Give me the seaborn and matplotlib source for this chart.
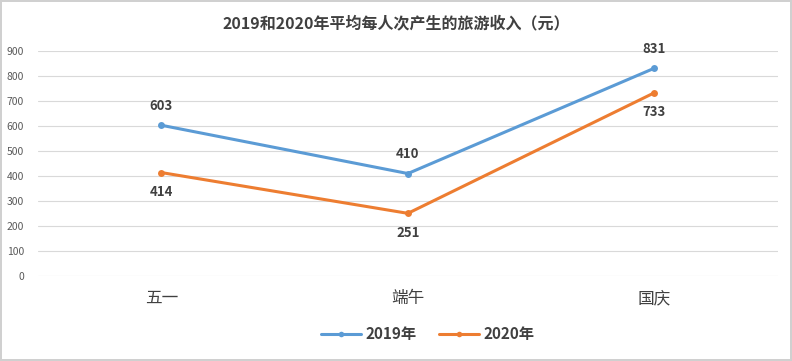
import pandas as pd
import seaborn as sns
import matplotlib.pyplot as plt

# données
categories = ['五一', '端午', '国庆']
valeurs_2019 = [603, 410, 831]
valeurs_2020 = [414, 251, 733]
series = ['2019年', '2020年']
y_ticks = [0, 100, 200, 300, 400, 500, 600, 700, 800, 900]

df = pd.DataFrame({
    'fete': categories * 2,
    'pos': list(range(len(categories))) * 2,
    'valeur': valeurs_2019 + valeurs_2020,
    'annee': [series[0]] * 3 + [series[1]] * 3,
})

sns.set_style('white')
plt.rcParams['font.family'] = ['Noto Sans CJK SC', 'DejaVu Sans']

couleurs = {'2019年': '#5B9BD5', '2020年': '#ED7D31'}

fig = plt.figure(figsize=(7.92, 3.61), dpi=100)
ax = fig.add_axes([0.048, 0.235, 0.934, 0.624])

sns.lineplot(data=df, x='pos', y='valeur', hue='annee', palette=couleurs,
             marker='o', markersize=5, markeredgewidth=0, linewidth=2.2,
             ax=ax, legend=False)

ax.set_xlim(-0.5, 2.5)
ax.set_ylim(0, 900)
ax.set_yticks(y_ticks)
ax.set_xticks(range(len(categories)))
ax.set_xticklabels(categories, fontsize=12, color='#404040')
ax.tick_params(axis='x', length=0, pad=10)
ax.tick_params(axis='y', length=0, labelsize=7.5, labelcolor='#595959', pad=10)
ax.grid(axis='y', color='#D9D9D9', linewidth=0.8)
ax.set_axisbelow(True)
for s in ax.spines.values():
    s.set_visible(False)
ax.set_xlabel('')
ax.set_ylabel('')

# étiquettes des valeurs
for i, (a, b) in enumerate(zip(valeurs_2019, valeurs_2020)):
    ax.annotate(str(a), (i, a), xytext=(0, 9), textcoords='offset points',
                ha='center', va='bottom', fontsize=9.5, fontweight='bold', color='#404040')
    ax.annotate(str(b), (i, b), xytext=(0, -9), textcoords='offset points',
                ha='center', va='top', fontsize=9.5, fontweight='bold', color='#404040')

# légende
handles = [plt.Line2D([], [], color=couleurs[s], marker='o', markersize=4,
                      markeredgewidth=0, linewidth=2.2) for s in series]
fig.legend(handles, series, loc='center', bbox_to_anchor=(0.54, 0.075), ncol=2,
           frameon=False, handlelength=2.6, columnspacing=1.5,
           handletextpad=0.3, prop={'weight': 'bold', 'size': 11})
for t in fig.legends[0].get_texts():
    t.set_color('#404040')

fig.suptitle('2019和2020年平均每人次产生的旅游收入（元）', y=0.935, va='center',
             fontsize=11.5, fontweight='bold', color='#404040')

fig.patch.set_edgecolor('#D0D0D0')
fig.patch.set_linewidth(1.5)

plt.savefig('out.png', dpi=100, edgecolor=fig.get_edgecolor())
